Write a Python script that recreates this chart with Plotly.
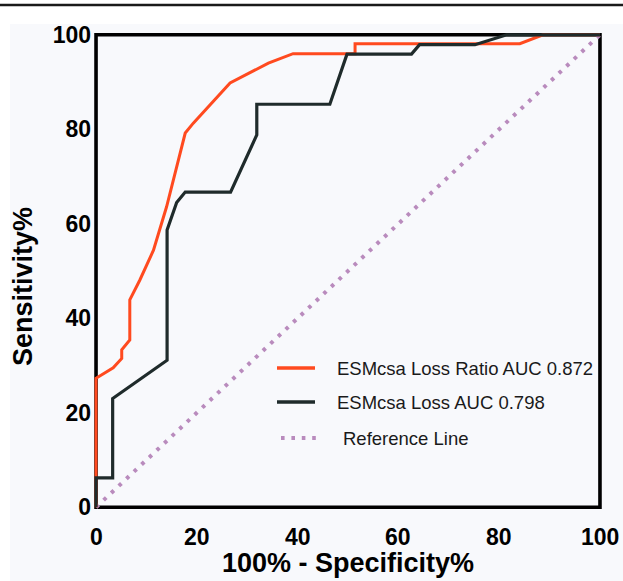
import plotly.graph_objects as go

# ROC curve: ESMcsa Loss Ratio (1 - specificity %, sensitivity %)
ratio_fpr = [0, 0, 3.4, 5.1, 5.1, 6.7, 6.7, 8.7, 11.4, 14.0, 17.7, 19.3, 26.6, 34.2, 39.1, 51.4, 51.4, 84.1, 88.7, 100]
ratio_tpr = [0, 27.3, 29.5, 31.5, 33.3, 35.4, 43.9, 48.1, 54.4, 63.6, 79.2, 81.3, 89.8, 94.0, 96.0, 96.0, 98.1, 98.1, 100, 100]

# ROC curve: ESMcsa Loss
loss_fpr = [0, 0, 3.3, 3.3, 14.1, 14.1, 16.0, 17.7, 26.7, 31.9, 31.9, 46.4, 49.8, 62.6, 64.2, 75.2, 81.5, 100]
loss_tpr = [0, 6.2, 6.2, 23.0, 31.1, 58.7, 64.5, 66.7, 66.7, 78.8, 85.3, 85.3, 95.9, 95.9, 97.9, 97.9, 100, 100]

# chance diagonal
ref_x = [0, 100]
ref_y = [0, 100]

legend_names = ["ESMcsa Loss Ratio AUC 0.872", "ESMcsa Loss AUC 0.798", "Reference Line"]
tick_vals = [0, 20, 40, 60, 80, 100]

ORANGE = "#ff4a1f"
DARK = "#1f2b2b"
DOTS = "#b98bbd"
FONT = "Liberation Sans, Arial, sans-serif"

W, H = 623, 581
M_L, M_R, M_T, M_B = 92, 19, 31, 70
PW, PH = W - M_L - M_R, H - M_T - M_B


def px(x):
    return (x - M_L) / PW


def py(y):
    return (H - M_B - y) / PH


fig = go.Figure()
fig.add_trace(go.Scatter(x=ref_x, y=ref_y, mode="lines",
                         line=dict(color=DOTS, width=4, dash="3.6px,6.8px"),
                         showlegend=False))
fig.add_trace(go.Scatter(x=ratio_fpr, y=ratio_tpr, mode="lines",
                         line=dict(color=ORANGE, width=3), showlegend=False))
fig.add_trace(go.Scatter(x=loss_fpr, y=loss_tpr, mode="lines",
                         line=dict(color=DARK, width=3.2), showlegend=False))

shapes = [
    # tinted background of the figure body
    dict(type="rect", xref="paper", yref="paper", x0=px(10), x1=px(W + 5), y0=py(24), y1=py(H + 5),
         fillcolor="#f8f9fc", line=dict(width=0), layer="below"),
    # rule across the top
    dict(type="line", xref="paper", yref="paper", x0=px(-5), x1=px(W + 5), y0=py(5), y1=py(5),
         line=dict(color="#1a1a1a", width=2.5)),
    # plot frame
    dict(type="rect", xref="x", yref="y", x0=0, x1=100, y0=0, y1=100,
         line=dict(color="#000000", width=3.6), layer="below"),
]

# legend samples
legend_rows = [368, 402, 438]
legend_styles = [dict(color=ORANGE, width=3.5), dict(color=DARK, width=3.5),
                 dict(color=DOTS, width=4, dash="3.6px,6.8px")]
legend_x = [(277, 315), (277, 315), (281, 317)]
text_x = [335, 335, 341]
annotations = []
for name, yy, st, (a, b), tx in zip(legend_names, legend_rows, legend_styles, legend_x, text_x):
    shapes.append(dict(type="line", xref="paper", yref="paper", x0=px(a), x1=px(b),
                       y0=py(yy), y1=py(yy), line=st))
    annotations.append(dict(text=name, xref="paper", yref="paper", x=px(tx), y=py(yy),
                            xanchor="left", yanchor="middle", showarrow=False,
                            font=dict(family=FONT, size=18.5, color="#1a1a1a")))

tick_font = dict(family=FONT, size=23, color="#000000", weight="bold")

# x tick labels, placed on the x data scale so the last one is not pushed inward
for v in tick_vals:
    annotations.append(dict(text=str(v), xref="x", yref="paper", x=v, y=py(537),
                            xanchor="center", yanchor="middle", showarrow=False, font=tick_font))

annotations.append(dict(text="100% - Specificity%", xref="paper", yref="paper",
                        x=px(348), y=py(563), xanchor="center", yanchor="middle", showarrow=False,
                        font=dict(family=FONT, size=27, color="#000000", weight="bold")))
annotations.append(dict(text="Sensitivity%", xref="paper", yref="paper", textangle=-90,
                        x=px(23), y=py(287), xanchor="center", yanchor="middle", showarrow=False,
                        font=dict(family=FONT, size=27, color="#000000", weight="bold")))

axis_common = dict(range=[-0.8, 100.8], tickvals=tick_vals, ticks="", showgrid=False,
                   zeroline=False, showline=False, fixedrange=True, tickfont=tick_font)

fig.update_layout(
    width=W, height=H,
    margin=dict(l=M_L, r=M_R, t=M_T, b=M_B, pad=0),
    paper_bgcolor="#ffffff", plot_bgcolor="rgba(0,0,0,0)",
    xaxis=dict(**axis_common, showticklabels=False),
    yaxis=dict(**axis_common),
    shapes=shapes, annotations=annotations, showlegend=False,
)

fig.write_html("out.html", config=dict(displayModeBar=False))
